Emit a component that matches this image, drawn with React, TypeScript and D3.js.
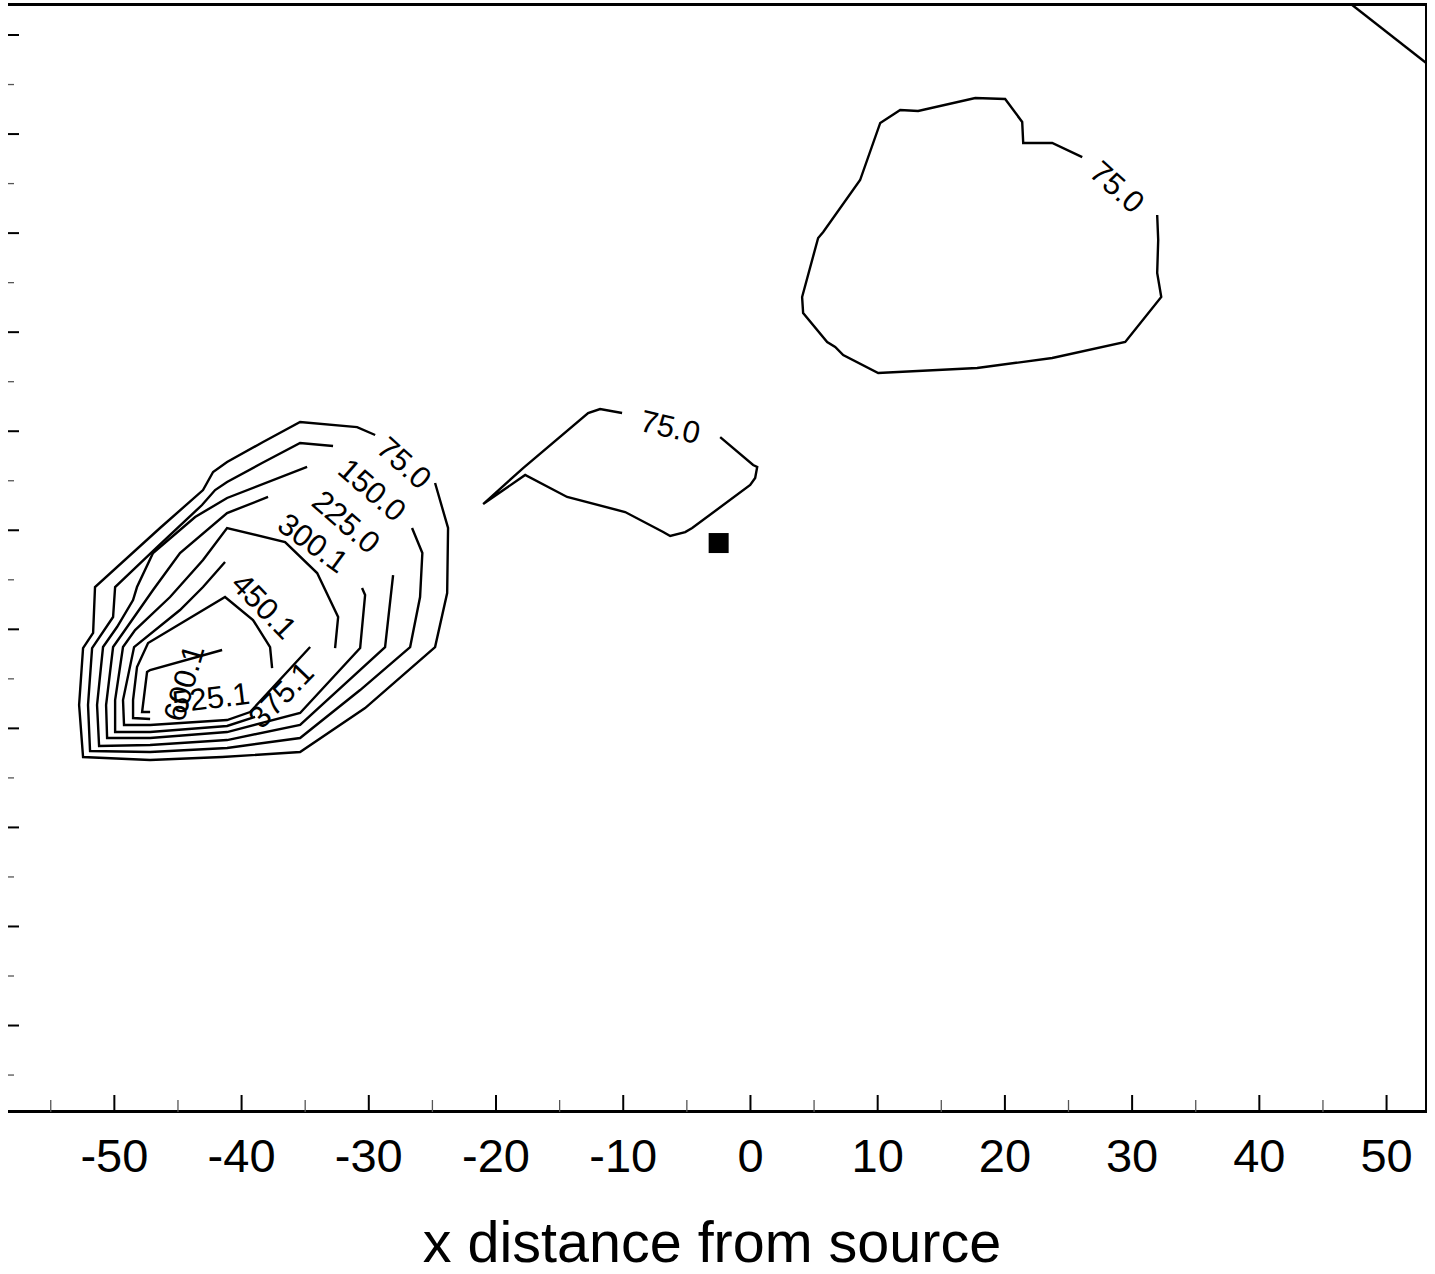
import React from "react";
import * as d3 from "d3";

// ---- data (all in data units: x / y distance from source) ----
const xDomain: [number, number] = [-58.36, 53.1];
const yDomain: [number, number] = [-58.73, 53.03];
const xMajorTicks = [-50, -40, -30, -20, -10, 0, 10, 20, 30, 40, 50];
const xMinorTicks = [-55, -45, -35, -25, -15, -5, 5, 15, 25, 35, 45];
const yMajorTicks = [-50, -40, -30, -20, -10, 0, 10, 20, 30, 40, 50];
const yMinorTicks = [-55, -45, -35, -25, -15, -5, 5, 15, 25, 35, 45];
const xAxisTitle = "x distance from source";

const source: [number, number] = [-2.5, -1.29];

const c075a: [number, number][] = [
  [-29.5, 9.62], [-30.92, 10.42], [-35.4, 10.93], [-38.31, 8.91], [-41.14, 6.89], [-42.24, 5.88],
  [-43.03, 4.06], [-46.41, 0.23], [-51.52, -5.73], [-51.67, -10.37], [-52.46, -11.89], [-52.77, -17.64],
  [-52.46, -22.89], [-47.19, -23.2], [-41.53, -22.89], [-35.4, -22.39], [-30.29, -17.95], [-24.79, -11.79],
  [-23.84, -6.34], [-23.77, 0.23], [-24.79, 4.77],
];
const c150: [number, number][] = [
  [-32.81, 8.51], [-35.4, 8.81], [-38.39, 6.79], [-41.14, 4.87], [-42.08, 4.06], [-43.11, 2.55],
  [-46.64, -1.69], [-49.94, -5.73], [-50.1, -8.76], [-51.75, -11.89], [-52.07, -17.64], [-51.91, -22.29],
  [-47.19, -22.39], [-41.14, -21.98], [-35.4, -20.97], [-30.68, -16.13], [-26.75, -11.79], [-25.97, -6.74],
  [-25.79, -2.3], [-26.6, 0.23],
];
const c225: [number, number][] = [
  [-34.85, 6.39], [-41.14, 3.26], [-43.65, 1.34], [-46.96, -2.3], [-48.22, -5.73], [-48.53, -7.04],
  [-49.79, -9.77], [-50.89, -11.79], [-51.36, -17.64], [-51.2, -21.78], [-47.19, -21.68], [-41.14, -21.18],
  [-35.4, -19.66], [-28.72, -11.79], [-28.09, -4.52],
];
const c300: [number, number][] = [
  [-37.92, 3.36], [-41.14, 1.74], [-44.84, -2.3], [-46.96, -6.03], [-49.16, -10.07], [-50.1, -11.79],
  [-50.65, -17.64], [-50.57, -20.97], [-47.19, -20.97], [-41.14, -20.37], [-35.4, -18.45], [-30.68, -11.89],
  [-30.29, -6.54], [-30.53, -5.83],
];
const c375: [number, number][] = [
  [-38.94, -18.85], [-41.14, -19.76], [-47.19, -20.37], [-49.94, -20.37], [-49.94, -17.14], [-49.32, -11.79],
  [-48.37, -10.07], [-45.62, -6.74], [-43.03, -3.0], [-41.14, 0.23], [-36.58, -1.19], [-34.06, -4.32],
  [-32.41, -8.76], [-32.65, -11.89],
];
const c450: [number, number][] = [
  [-41.3, -3.21], [-43.03, -5.73], [-44.84, -8.05], [-48.45, -11.79], [-49.32, -17.14], [-49.24, -19.66],
  [-47.19, -19.66], [-41.14, -19.16], [-39.33, -18.35], [-34.61, -11.79],
];
const c525: [number, number][] = [
  [-47.19, -19.06], [-48.53, -18.96], [-48.53, -17.14], [-48.22, -13.81], [-47.35, -11.38], [-41.3, -6.74],
  [-39.1, -9.06], [-37.76, -11.79], [-37.6, -13.91],
];
const c600: [number, number][] = [
  [-47.19, -18.35], [-47.82, -18.35], [-47.43, -14.31], [-47.19, -14.11], [-41.53, -12.09],
];
const c075b: [number, number][] = [
  [-10.09, 11.84], [-11.82, 12.24], [-12.76, 11.84], [-17.87, 6.28], [-21.01, 2.65], [-17.71, 5.58],
  [-14.41, 3.36], [-9.85, 1.84], [-6.86, -0.18], [-6.31, -0.58], [-5.13, -0.18], [-4.58, 0.23],
  [-0.02, 4.57], [0.37, 5.28], [0.53, 6.39], [0.21, 6.59], [-2.38, 9.41],
];
const c075c: [number, number][] = [
  [31.97, 31.83], [32.05, 29.3], [31.97, 25.97], [32.29, 23.55], [29.46, 19.01], [23.72, 17.39],
  [17.82, 16.38], [10.04, 15.88], [7.29, 17.69], [6.66, 18.5], [6.03, 19.01], [4.14, 21.93],
  [4.06, 23.55], [5.32, 29.51], [5.72, 30.11], [8.62, 35.36], [10.2, 41.12], [11.77, 42.43],
  [13.18, 42.33], [17.67, 43.64], [20.02, 43.54], [21.36, 41.22], [21.44, 39.1], [23.72, 39.1],
  [26.08, 37.68],
];
const c075d: [number, number][] = [
  [47.3, 53.03], [53.12, 47.17],
];

const contourLines = [c075a, c150, c225, c300, c375, c450, c525, c600, c075b, c075c, c075d];

const labelText = ["75.0", "150.0", "225.0", "300.1", "375.1", "450.1", "525.1", "600.1", "75.0", "75.0"];
const labelX = [-27.22, -29.74, -31.78, -34.38, -36.89, -38.23, -42.4, -44.52, -6.31, 28.83];
const labelY = [6.79, 4.06, 0.83, -1.29, -16.63, -7.65, -16.93, -15.42, 10.42, 34.65];
const labelAngle = [42, 41, 41, 36, -46, 46, -7, -74, 13, 42];

export default function App() {
  const W = 1435;
  const H = 1274;
  const x = d3.scaleLinear().domain(xDomain).range([8, 1426]);
  const y = d3.scaleLinear().domain(yDomain).range([1112, 5]);
  const line = d3
    .line<[number, number]>()
    .x((d) => x(d[0]))
    .y((d) => y(d[1]));

  const font = "'Liberation Sans', Arial, Helvetica, sans-serif";
  const [x0, x1] = x.range();
  const [yb, yt] = y.range();

  return (
    <svg
      width={W}
      height={H}
      style={{ position: "absolute", left: 0, top: 0, display: "block", background: "#fff" }}
    >
      <defs>
        <clipPath id="plotClip">
          <rect x={x0} y={yt} width={x1 - x0} height={yb - yt} />
        </clipPath>
      </defs>
      <rect x={0} y={0} width={W} height={H} fill="#fff" />

      {/* contours */}
      <g clipPath="url(#plotClip)">
        {contourLines.map((c, i) => (
          <path key={i} d={line(c) || ""} fill="none" stroke="#000" strokeWidth={2.4} strokeLinejoin="miter" />
        ))}
      </g>

      {/* contour labels */}
      {labelText.map((t, i) => (
        <text
          key={i}
          x={0}
          y={0}
          transform={`translate(${x(labelX[i])},${y(labelY[i])}) rotate(${labelAngle[i]})`}
          textAnchor="middle"
          dominantBaseline="central"
          fontFamily={font}
          fontSize={31}
          fill="#000"
        >
          {t}
        </text>
      ))}

      {/* source marker */}
      <rect x={x(source[0]) - 10} y={y(source[1]) - 10} width={20} height={20} fill="#000" />

      {/* frame: top and right */}
      <line x1={x0} x2={x1 + 1} y1={yt - 0.5} y2={yt - 0.5} stroke="#000" strokeWidth={3} />
      <line x1={x1} x2={x1} y1={yt - 2} y2={yb} stroke="#000" strokeWidth={2} />

      {/* x axis */}
      <line x1={x0} x2={x1 + 1} y1={yb - 0.5} y2={yb - 0.5} stroke="#000" strokeWidth={3} />
      {xMajorTicks.map((t) => (
        <line key={"xM" + t} x1={x(t)} x2={x(t)} y1={yb} y2={yb - 17} stroke="#000" strokeWidth={2} />
      ))}
      {xMinorTicks.map((t) => (
        <line key={"xm" + t} x1={x(t)} x2={x(t)} y1={yb} y2={yb - 12} stroke="#555" strokeWidth={1.3} />
      ))}
      {xMajorTicks.map((t) => (
        <text
          key={"xl" + t}
          x={x(t)}
          y={1172}
          textAnchor="middle"
          fontFamily={font}
          fontSize={47}
          fill="#000"
        >
          {t}
        </text>
      ))}
      <text
        x={712}
        y={1262}
        textAnchor="middle"
        fontFamily={font}
        fontSize={57.5}
        fill="#000"
      >
        {xAxisTitle}
      </text>

      {/* y ticks (no axis line, no labels) */}
      {yMajorTicks.map((t) => (
        <line key={"yM" + t} x1={x0} x2={x0 + 11} y1={y(t)} y2={y(t)} stroke="#000" strokeWidth={2} />
      ))}
      {yMinorTicks.map((t) => (
        <line key={"ym" + t} x1={x0} x2={x0 + 6} y1={y(t)} y2={y(t)} stroke="#555" strokeWidth={1.3} />
      ))}
    </svg>
  );
}
